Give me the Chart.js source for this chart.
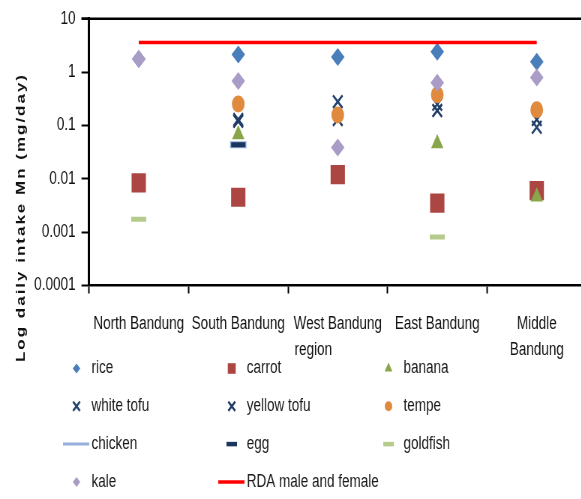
<!DOCTYPE html>
<html>
<head>
<meta charset="utf-8">
<title>Log daily intake Mn</title>
<script src="https://cdn.jsdelivr.net/npm/chart.js@4/dist/chart.umd.min.js"></script>
<style>
  html, body { margin: 0; padding: 0; background: #fff; overflow: hidden; }
  /* the drawing is laid out wide and squeezed horizontally for a condensed look */
  #wrap { width: 800px; height: 499px; transform: scaleX(0.75); transform-origin: 0 0; }
  canvas { display: block; }
</style>
</head>
<body>
<div id="wrap"><canvas id="chart" width="800" height="499"></canvas></div>
<script>
// Regions (category axis)
const regions = [
  'North Bandung',
  'South Bandung',
  ['West Bandung', 'region' + '\u00a0'.repeat(13)],
  'East Bandung',
  ['Middle', 'Bandung']
];

// Daily Mn intake per food, mg/day (null = not reported)
const rice       = [1.77, 2.13, 1.93, 2.42, 1.56];
const carrot     = [0.0084, 0.0045, 0.012, 0.0035, 0.006];
const banana     = [null, 0.068, null, 0.046, 0.0046];
const whiteTofu  = [null, 0.13, 0.28, 0.25, 0.093];
const yellowTofu = [null, 0.12, 0.13, 0.19, 0.13];
const tempe      = [null, 0.254, 0.157, 0.377, 0.198];
const chicken    = [null, 0.0434, null, null, null];
const egg        = [null, 0.0434, null, null, null];
const goldfish   = [0.00175, null, null, 0.00081, null];
const kale       = [1.77, 0.68, 0.0385, 0.63, 0.79];
const rdaMaleFemale = [3.6, 3.6, 3.6, 3.6, 3.6];

// Log axis ticks
const yTicks      = [0.0001, 0.001, 0.01, 0.1, 1, 10];
const yTickLabels = ['0.0001', '0.001', '0.01', '0.1', '1', '10'];

const yTitle = 'Log daily intake Mn (mg/day)';

const FONT = '"Liberation Sans", Arial, sans-serif';
Chart.defaults.font.family = FONT;

// Marker look for each series (plot radius r, legend radius lr)
const series = [
  { label: 'rice',        data: rice,       style: 'rectRot',  color: '#4A7EBB', r: 9,    lr: 5 },
  { label: 'carrot',      data: carrot,     style: 'rect',     color: '#AC4642', r: 13.5, lr: 7.5 },
  { label: 'banana',      data: banana,     style: 'triangle', color: '#8AA64A', r: 9.5,  lr: 6 },
  { label: 'white tofu',  data: whiteTofu,  style: 'crossRot', color: '#264470', r: 9,    lr: 6.5, bw: 2.5 },
  { label: 'yellow tofu', data: yellowTofu, style: 'crossRot', color: '#1F3A63', r: 9,    lr: 6.5, bw: 2.5 },
  { label: 'tempe',       data: tempe,      style: 'circle',   color: '#E08A3E', r: 8.5,  lr: 5 },
  { label: 'chicken',     data: chicken,    style: 'line',     color: '#95B0DA', r: 11,   bw: 7, legendLine: 3 },
  { label: 'egg',         data: egg,        style: 'line',     color: '#1B365E', r: 9.5,  bw: 5, lr: 7, lbw: 4.5 },
  { label: 'goldfish',    data: goldfish,   style: 'line',     color: '#B5CB8E', r: 10,   bw: 5, lr: 7, lbw: 4.5 },
  { label: 'kale',        data: kale,       style: 'rectRot',  color: '#A99CC6', r: 9,    lr: 5 },
  { label: 'RDA male and female', data: rdaMaleFemale, style: null, color: '#FF0000', legendLine: 3.5, line: 3.5 }
];

const datasets = series.map((s, i) => ({
  label: s.label,
  data: s.data,
  order: series.length - i,           // later series are drawn on top
  showLine: !!s.line,
  borderColor: s.color,
  backgroundColor: s.color,
  borderWidth: s.line || 0,
  pointStyle: s.style || 'circle',
  pointRadius: s.style ? s.r : 0,
  pointBackgroundColor: s.color,
  pointBorderColor: s.color,
  pointBorderWidth: s.bw || 0,
  spanGaps: false
}));

// Frame line along the top of the plot area
const framePlugin = {
  id: 'frame',
  afterDraw(chart) {
    const { ctx, chartArea: a } = chart;
    ctx.save();
    ctx.strokeStyle = '#000';
    ctx.lineWidth = 2.5;
    ctx.beginPath();
    ctx.moveTo(a.left - 10, a.top);
    ctx.lineTo(a.right, a.top);
    ctx.moveTo(a.right, a.top);
    ctx.lineTo(a.right, a.bottom);
    ctx.stroke();
    ctx.restore();
  }
};

// Rotated y-axis title, letter-spaced to run from y=75 to y=362
const yTitlePlugin = {
  id: 'yTitle',
  afterDraw(chart) {
    const ctx = chart.ctx;
    ctx.save();
    ctx.font = 'bold 17px ' + FONT;
    ctx.letterSpacing = '0px';
    const plain = ctx.measureText(yTitle).width;
    const gap = Math.max(0, (287 - plain) / (yTitle.length - 1));
    ctx.letterSpacing = gap.toFixed(2) + 'px';
    ctx.translate(28, 218.5);
    ctx.rotate(-Math.PI / 2);
    ctx.fillStyle = '#111';
    ctx.textAlign = 'left';
    ctx.textBaseline = 'middle';
    ctx.fillText(yTitle, -143.5, 0);
    ctx.restore();
  }
};

// Legend laid out as a three-column grid below the axis
const gridLegendPlugin = {
  id: 'gridLegend',
  afterDraw(chart) {
    const ctx = chart.ctx;
    const textX = [122, 329, 538];
    const rowY0 = 368.5, rowDy = 37.8;
    ctx.save();
    ctx.font = '18px ' + FONT;
    ctx.textBaseline = 'middle';
    ctx.textAlign = 'left';
    series.forEach((s, i) => {
      const tx = textX[i % 3];
      const y = rowY0 + Math.floor(i / 3) * rowDy;
      ctx.fillStyle = s.color;
      ctx.strokeStyle = s.color;
      if (s.legendLine) {
        ctx.lineWidth = s.legendLine;
        ctx.beginPath();
        ctx.moveTo(tx - 38, y);
        ctx.lineTo(tx - 3, y);
        ctx.stroke();
      } else {
        ctx.lineWidth = s.lbw || s.bw || 0;
        Chart.helpers.drawPoint(ctx, {
          pointStyle: s.style, rotation: 0, radius: s.lr, borderWidth: s.lbw || s.bw || 0
        }, tx - 20, y);
      }
      ctx.fillStyle = '#1a1a1a';
      ctx.fillText(s.label, tx, y);
    });
    ctx.restore();
  }
};

new Chart(document.getElementById('chart'), {
  type: 'line',
  data: { labels: regions, datasets },
  options: {
    responsive: false,
    animation: false,
    events: [],
    layout: { padding: { top: 15, right: 14.7, left: 0, bottom: 0 } },
    plugins: { legend: { display: false }, tooltip: { enabled: false } },
    scales: {
      x: {
        type: 'category',
        offset: true,
        grid: { offset: true, drawOnChartArea: false, drawTicks: true, tickLength: 8, tickWidth: 2, tickColor: '#000' },
        border: { display: true, color: '#000', width: 2.5 },
        ticks: {
          font: { size: 18, lineHeight: 26 / 18 },
          color: '#111',
          padding: 17.5,
          maxRotation: 0,
          minRotation: 0,
          autoSkip: false
        },
        afterFit(scale) { scale.height = 213.5; }
      },
      y: {
        type: 'logarithmic',
        min: 0.0001,
        max: 10,
        afterBuildTicks(scale) { scale.ticks = yTicks.map(v => ({ value: v, major: true })); },
        grid: { drawOnChartArea: false, drawTicks: true, tickLength: 10, tickWidth: 2, tickColor: '#000' },
        border: { display: true, color: '#000', width: 3 },
        ticks: {
          font: { size: 18 },
          color: '#111',
          padding: 8,
          autoSkip: false,
          callback: (v, i) => yTickLabels[i]
        },
        afterFit(scale) { scale.width = 118.67; }
      }
    }
  },
  plugins: [framePlugin, yTitlePlugin, gridLegendPlugin]
});
</script>
</body>
</html>
